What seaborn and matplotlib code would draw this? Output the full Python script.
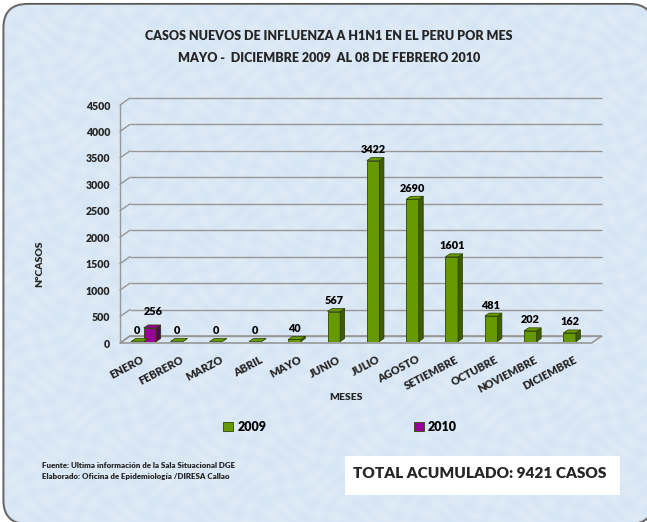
import numpy as np
import pandas as pd
import seaborn as sns
import matplotlib.pyplot as plt
from matplotlib.patches import FancyBboxPatch, Polygon, Rectangle
from matplotlib.transforms import Affine2D

months = ['ENERO', 'FEBRERO', 'MARZO', 'ABRIL', 'MAYO', 'JUNIO', 'JULIO', 'AGOSTO',
          'SETIEMBRE', 'OCTUBRE', 'NOVIEMBRE', 'DICIEMBRE']
casos_2009 = [0, 0, 0, 0, 40, 567, 3422, 2690, 1601, 481, 202, 162]
casos_2010 = [256, None, None, None, None, None, None, None, None, None, None, None]
y_ticks = [0, 500, 1000, 1500, 2000, 2500, 3000, 3500, 4000, 4500]

W, H = 647, 522
GREEN, PURPLE = '#669900', '#990099'
DARK = {GREEN: '#3d5c00', PURPLE: '#5c005c'}
WEIGHT = 'heavy'

sns.set_style('white')
plt.rcParams['font.family'] = ['Lato', 'DejaVu Sans']
plt.rcParams['font.weight'] = WEIGHT

fig = plt.figure(figsize=(W / 100, H / 100), dpi=100, facecolor='white')

# fondo con esquinas redondeadas
bg = fig.add_axes([0, 0, 1, 1], zorder=0)
frame = FancyBboxPatch((3.5, 4), 650, 520, boxstyle='round,pad=0,rounding_size=24',
                       fc='#d8e8f7', ec='#555555', lw=1.5)
bg.add_patch(frame)
xx, yy = np.meshgrid(np.arange(W), np.arange(H))
tex = np.sin(xx / 5.0 + np.sin(yy / 11.0) * 2) * np.sin(yy / 4.0 + np.sin(xx / 13.0) * 2)
im = bg.imshow(tex, cmap=sns.light_palette('#cfe0f3', reverse=True, as_cmap=True),
               extent=(0, W, H, 0), alpha=0.3, aspect='auto', zorder=1.5)
im.set_clip_path(frame)
bg.set_xlim(0, W)
bg.set_ylim(H, 0)
bg.axis('off')

# ejes en el plano de las barras
left, right, y0, ytop = 124, 595.6, 341.5, 103.5
ax = fig.add_axes([left / W, 1 - y0 / H, (right - left) / W, (y0 - ytop) / H], zorder=2)
ax.patch.set_alpha(0)

df = pd.DataFrame({
    'mes': months * 2,
    'casos': casos_2009 + casos_2010,
    'anio': ['2009'] * 12 + ['2010'] * 12,
}).dropna()
sns.barplot(data=df, x='mes', y='casos', hue='anio', order=months, hue_order=['2009', '2010'],
            palette=[GREEN, PURPLE], width=0.64, dodge=True, saturation=1, ax=ax,
            edgecolor='#2f4700', linewidth=0.6, zorder=3)
ax.set_ylim(0, 4500)
ax.set_xlim(-0.5, 11.5)
sns.despine(ax=ax, left=True, bottom=True)
ax.set_yticks(y_ticks)
ax.tick_params(axis='y', length=0, pad=10, labelsize=7.6)
ax.tick_params(axis='x', length=0)
ax.set_xticks(range(12))
ax.set_xticklabels([])
ax.set_xlabel('')
ax.set_ylabel('')
for lab in ax.get_yticklabels():
    lab.set_transform(lab.get_transform() + Affine2D().translate(0, -1.5))

# pared y piso en perspectiva
GRID = '#979797'
back = ax.transData + Affine2D().translate(6, 5.5)
front = ax.transData + Affine2D().translate(-4, -1.5)
ax.hlines(y_ticks, -0.5, 11.5, color=GRID, lw=1.0, transform=back, zorder=1, clip_on=False)
for t in y_ticks:
    p0 = front.transform((-0.5, t))
    p1 = back.transform((-0.5, t))
    ax.plot([p0[0], p1[0]], [p0[1], p1[1]], color=GRID, lw=1.0, transform=None, zorder=1,
            clip_on=False)
p0, p1 = front.transform((-0.5, 0)), front.transform((-0.5, 4500))
ax.plot([p0[0], p1[0]], [p0[1], p1[1]], color=GRID, lw=1.0, transform=None, clip_on=False)
f0, f1 = front.transform((-0.5, 0)), front.transform((11.5, 0))
b0, b1 = back.transform((-0.5, 0)), back.transform((11.5, 0))
ax.add_patch(Polygon([f0, f1, b1, b0], closed=True, transform=None, fc='none', ec=GRID,
                     lw=1.2, zorder=1, clip_on=False))

# caras laterales y superiores, etiquetas de valor
DX, DY = 4.5, 3
for cont, col in zip(ax.containers, [GREEN, PURPLE]):
    for patch in cont:
        val = patch.get_height()
        if np.isnan(val):
            continue
        x0, x1 = patch.get_x(), patch.get_x() + patch.get_width()
        a = ax.transData.transform((x0, 0))
        b = ax.transData.transform((x1, val))
        top = [(a[0], b[1]), (b[0], b[1]), (b[0] + DX, b[1] + DY), (a[0] + DX, b[1] + DY)]
        side = [(b[0], a[1]), (b[0], b[1]), (b[0] + DX, b[1] + DY), (b[0] + DX, a[1] + DY)]
        ax.add_patch(Polygon(side, closed=True, transform=None, fc=DARK[col], ec='#2a3d00',
                             lw=0.5, zorder=3, clip_on=False))
        ax.add_patch(Polygon(top, closed=True, transform=None, fc=col, ec='#2a3d00',
                             lw=0.5, zorder=3, clip_on=False))
        extra = (3, 16) if col == PURPLE else (0, 11)
        ax.annotate(f'{val:.0f}', (patch.get_x() + patch.get_width() / 2, val),
                    xytext=(extra[0] * 0.72, extra[1] * 0.72), textcoords='offset points',
                    ha='center', va='center', fontsize=7.8, color='black', zorder=5,
                    annotation_clip=False)

# etiquetas de meses
for i, m in enumerate(months):
    ax.annotate(m, (i, 0), xytext=(0, -12.5), textcoords='offset points', rotation=28,
                rotation_mode='anchor', ha='right', va='center', fontsize=7.8)

sns.move_legend(ax, loc='center', bbox_to_anchor=(0.458, (y0 - 427) / (y0 - ytop)), ncol=2,
                frameon=False, title=None, columnspacing=11.8, handlelength=0.8, handleheight=0.8,
                handletextpad=0.3, fontsize=9, labelcolor='black')

# textos
fig.text(329 / W, 1 - 36 / H, 'CASOS NUEVOS DE INFLUENZA A H1N1 EN EL PERU POR MES',
         ha='center', va='center', fontsize=9)
fig.text(329 / W, 1 - 58 / H, 'MAYO -  DICIEMBRE 2009  AL 08 DE FEBRERO 2010',
         ha='center', va='center', fontsize=9)
fig.text(40 / W, 1 - 264 / H, 'N°CASOS', rotation=90, ha='center', va='center', fontsize=7.5)
fig.text(346 / W, 1 - 397 / H, 'MESES', ha='center', va='center', fontsize=7.5)
fig.text(42 / W, 1 - 465 / H, 'Fuente: Ultima información de la Sala Situacional DGE',
         ha='left', va='center', fontsize=5.7)
fig.text(42 / W, 1 - 477 / H, 'Elaborado: Oficina de Epidemiología /DIRESA Callao',
         ha='left', va='center', fontsize=5.7)
bg.add_patch(Rectangle((345, 456), 275, 39, fc='white', ec='none', zorder=3))
bg.text(480, 473, 'TOTAL ACUMULADO: 9421 CASOS', ha='center', va='center', fontsize=11.1, zorder=4)

fig.savefig('out.png', dpi=100)
